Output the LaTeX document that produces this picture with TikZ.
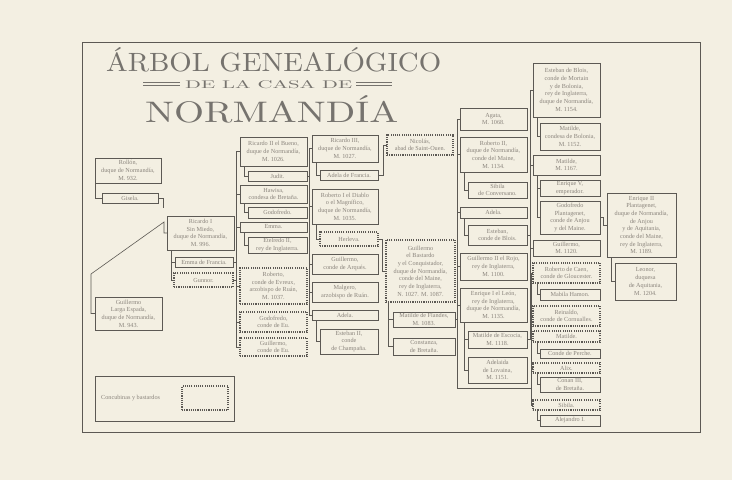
\documentclass[tikz,border=0pt]{standalone}
\usepackage{fontspec}
\usepackage{graphicx}
\usetikzlibrary{calc}
\newfontfamily\boxserif{Liberation Serif}
\definecolor{bg}{RGB}{243,239,226}
\definecolor{linec}{RGB}{92,89,84}
\definecolor{txtc}{RGB}{138,132,124}
\definecolor{titlec}{RGB}{118,115,110}
\newcommand\boxfont{\boxserif\fontsize{6.2}{7.7}\selectfont}
\newcommand{\gnode}[7]{\node[#6, minimum width={#4pt-#2pt}, minimum height={#5pt-#3pt}] (#1) at (#2,#3) {#7};}
\tikzset{
  bx/.style={draw=linec, line width=0.7pt, inner sep=0pt, outer sep=0pt, align=center, font=\boxfont, text=txtc, anchor=north west},
  cb/.style={bx, line width=1.3pt, dash pattern=on 1.1pt off 1.1pt},
  cn/.style={draw=linec, line width=0.6pt},
}
\begin{document}
\begin{tikzpicture}[x=1pt,y=-1pt]
\fill[bg] (0,0) rectangle (732,480);
\useasboundingbox (0,0) rectangle (732,480);
\draw[linec, line width=0.8pt] (82,42) rectangle (700,432);
% title
\node[anchor=base west, inner sep=0, text=titlec] (t1) at (106,71) {\resizebox{335pt}{24pt}{ÁRBOL GENEALÓGICO}};
\node[anchor=base west, inner sep=0, text=titlec] (t2) at (185,88) {\resizebox{167pt}{8pt}{DE LA CASA DE}};
\node[anchor=base west, inner sep=0, text=titlec] (t3) at (145,122) {\resizebox{253pt}{27pt}{NORMANDÍA}};
\draw[titlec, line width=0.5pt] (143,82.5) -- (180,82.5) (143,85) -- (180,85) (356,82.5) -- (392,82.5) (356,85) -- (392,85);
% column 1
\gnode{rollon}{95}{158}{161}{183}{bx}{Rollón,\\duque de Normandía,\\M. 932.}
\gnode{gisela}{102}{193}{158}{203}{bx}{Gisela.}
\gnode{guillermoLE}{95}{297}{162}{330}{bx}{Guillermo\\Larga Espada,\\duque de Normandía,\\M. 943.}
% column 2
\gnode{ricardoI}{167}{216}{234}{250}{bx}{Ricardo I\\Sin Miedo,\\duque de Normandía,\\M. 996.}
\gnode{emmaF}{175}{257}{233}{267}{bx}{Emma de Francia.}
\gnode{gunnor}{174}{273}{233}{287}{cb}{Gunnor.}
% column 3
\gnode{ricardoII}{240}{137}{307}{166}{bx}{Ricardo II el Bueno,\\duque de Normandía,\\M. 1026.}
\gnode{judit}{248}{171}{307}{181}{bx}{Judit.}
\gnode{hawisa}{240}{185}{307}{203}{bx}{Hawisa,\\condesa de Bretaña.}
\gnode{godofredo}{248}{207}{307}{218}{bx}{Godofredo.}
\gnode{emma}{240}{222}{307}{232}{bx}{Emma.}
\gnode{etelredo}{248}{237}{307}{253}{bx}{Etelredo II,\\rey de Inglaterra.}
\gnode{robertoR}{240}{268}{307}{304}{cb}{Roberto,\\conde de Evreux,\\arzobispo de Ruán,\\M. 1037.}
\gnode{godofredoEu}{240}{312}{307}{332}{cb}{Godofredo,\\conde de Eu.}
\gnode{guillermoEu}{240}{338}{307}{356}{cb}{Guillermo,\\conde de Eu.}
% column 4
\gnode{ricardoIII}{312}{135}{378}{162}{bx}{Ricardo III,\\duque de Normandía,\\M. 1027.}
\gnode{adelaF}{320}{170}{378}{180}{bx}{Adela de Francia.}
\gnode{robertoI}{312}{189}{378}{224}{bx}{Roberto I el Diablo\\o el Magnífico,\\duque de Normandía,\\M. 1035.}
\gnode{herleva}{320}{232}{378}{246}{cb}{Herleva.}
\gnode{guillermoA}{312}{254}{378}{274}{bx}{Guillermo,\\conde de Arqués.}
\gnode{malgero}{312}{282}{378}{302}{bx}{Malgero,\\arzobispo de Ruán.}
\gnode{adela4}{312}{310}{378}{320}{bx}{Adela.}
\gnode{esteban2}{320}{329}{378}{354}{bx}{Esteban II,\\conde\\de Champaña.}
% column 5
\gnode{nicolas}{387}{135}{453}{155}{cb}{Nicolás,\\abad de Saint-Ouen.}
\gnode{guillermoC}{386}{240}{455}{302}{cb}{Guillermo\\el Bastardo\\y el Conquistador,\\duque de Normandía,\\conde del Maine,\\rey de Inglaterra,\\N. 1027. M. 1087.}
\gnode{matildeF}{393}{312}{455}{327}{bx}{Matilde de Flandes,\\M. 1083.}
\gnode{constanza}{393}{338}{455}{355}{bx}{Constanza,\\de Bretaña.}
% column 6
\gnode{agata}{460}{108}{527}{130}{bx}{Agata,\\M. 1068.}
\gnode{robertoII}{460}{137}{527}{172}{bx}{Roberto II,\\duque de Normandía,\\conde del Maine,\\M. 1134.}
\gnode{sibila}{468}{182}{527}{198}{bx}{Sibila\\de Conversano.}
\gnode{adela6}{460}{207}{527}{218}{bx}{Adela.}
\gnode{estebanB}{468}{225}{527}{245}{bx}{Esteban,\\conde de Blois.}
\gnode{guillermoII}{460}{253}{527}{280}{bx}{Guillermo II el Rojo,\\rey de Inglaterra,\\M. 1100.}
\gnode{enriqueI}{460}{288}{527}{322}{bx}{Enrique I el León,\\rey de Inglaterra,\\duque de Normandía,\\M. 1135.}
\gnode{matildeE}{468}{331}{527}{348}{bx}{Matilde de Escocia,\\M. 1118.}
\gnode{adelaida}{468}{357}{527}{383}{bx}{Adelaida\\de Lovaina,\\M. 1151.}
% column 7
\gnode{estebanBl}{533}{63}{600}{117}{bx}{Esteban de Blois,\\conde de Mortain\\y de Bolonia,\\rey de Inglaterra,\\duque de Normandía,\\M. 1154.}
\gnode{matildeB}{540}{123}{600}{150}{bx}{Matilde,\\condesa de Bolonia,\\M. 1152.}
\gnode{matilde7}{533}{155}{600}{175}{bx}{Matilde,\\M. 1167.}
\gnode{enriqueV}{540}{180}{600}{196}{bx}{Enrique V,\\emperador.}
\gnode{godofredoP}{540}{201}{600}{234}{bx}{Godofredo\\Plantagenet,\\conde de Anjou\\y del Maine.}
\gnode{guillermo7}{533}{240}{600}{256}{bx}{Guillermo,\\M. 1120.}
\gnode{robertoC}{533}{263}{600}{283}{cb}{Roberto de Caen,\\conde de Gloucester.}
\gnode{mabila}{540}{289}{600}{300}{bx}{Mabila Hamon.}
\gnode{reinaldo}{533}{306}{600}{326}{cb}{Reinaldo,\\conde de Cornualles.}
\gnode{matildeP}{533}{331}{600}{342}{cb}{Matilde.}
\gnode{perche}{540}{349}{600}{358}{bx}{Conde de Perche.}
\gnode{alix}{533}{363}{600}{373}{cb}{Alix.}
\gnode{conan}{540}{377}{600}{392}{bx}{Conan III,\\de Bretaña.}
\gnode{sibila7}{533}{400}{600}{410}{cb}{Sibila.}
\gnode{alejandro}{540}{415}{600}{426}{bx}{Alejandro I.}
% column 8
\gnode{enriqueII}{607}{193}{676}{257}{bx}{Enrique II\\Plantagenet,\\duque de Normandía,\\de Anjou\\y de Aquitania,\\conde del Maine,\\rey de Inglaterra,\\M. 1189.}
\gnode{leonor}{615}{263}{676}{300}{bx}{Leonor,\\duquesa\\de Aquitania,\\M. 1204.}
% legend
\gnode{leg}{95}{376}{234}{421}{bx}{}
\node[anchor=west, font=\boxfont, text=txtc, inner sep=0] (legt) at (101,398.5) {Concubinas y bastardos};
\gnode{legs}{182}{386}{228}{410}{cb}{}
% connectors
\draw[cn] (rollon.south west) |- (gisela.west);
\draw[cn] (gisela.east) -- ++(5,0) -- ++(0,10);
\coordinate (d1) at (91,274);
\coordinate (d2) at (164,222);
\draw[cn] (guillermoLE.west) -- (guillermoLE.west -| d1) -- (d1) -- (d2) |- (ricardoI.west);
\draw[cn] ([xshift=4pt]ricardoI.south west) |- (emmaF.west);
\draw[cn] ([xshift=4pt]ricardoI.south west) |- (gunnor.west);
\draw[cn] (emmaF.east) -- ++(3.5,0);
\foreach \c in {ricardoII,hawisa,emma,robertoR,godofredoEu,guillermoEu}
  \draw[cn] (gunnor.east) -- ++(3.5,0) |- (\c.west);
\foreach \p/\s in {ricardoII/judit, hawisa/godofredo, emma/etelredo, ricardoIII/adelaF, robertoI/herleva, adela4/esteban2, robertoII/sibila, adela6/estebanB, enriqueI/matildeE, enriqueI/adelaida, estebanBl/matildeB, matilde7/enriqueV, matilde7/godofredoP, robertoC/mabila, matildeP/perche, alix/conan, sibila7/alejandro, enriqueII/leonor}
  \draw[cn] ([xshift=4pt]\p.south west) |- (\s.west);
\foreach \c in {ricardoIII,robertoI,guillermoA,malgero,adela4}
  \draw[cn] (judit.east) -- ++(2.5,0) |- (\c.west);
\draw[cn] (adelaF.east) -- ++(5,0) |- (nicolas.west);
\draw[cn] (herleva.east) -- ++(4.5,0) |- (guillermoC.west);
\draw[cn] ([xshift=2.5pt]guillermoC.south west) |- (matildeF.west);
\draw[cn] ([xshift=2.5pt]guillermoC.south west) |- (constanza.west);
\foreach \c in {agata,robertoII,adela6,guillermoII,enriqueI}
  \draw[cn] (matildeF.east) -- ++(2.5,0) |- (\c.west);
\draw[cn] (estebanB.east) -- ++(3,0) |- (estebanBl.west);
\foreach \c in {matilde7,guillermo7}
  \draw[cn] (matildeE.east) -- ++(3,0) |- (\c.west);
\coordinate (eb2) at (531,388);
\draw[cn] (matildeF.east) -- ++(2.5,0) |- (eb2);
\foreach \c in {robertoC,reinaldo,matildeP,alix,sibila7}
  \draw[cn] (eb2) |- (\c.west);
\draw[cn] (godofredoP.east) -- ++(3,0) |- (enriqueII.west);
\end{tikzpicture}
\end{document}
